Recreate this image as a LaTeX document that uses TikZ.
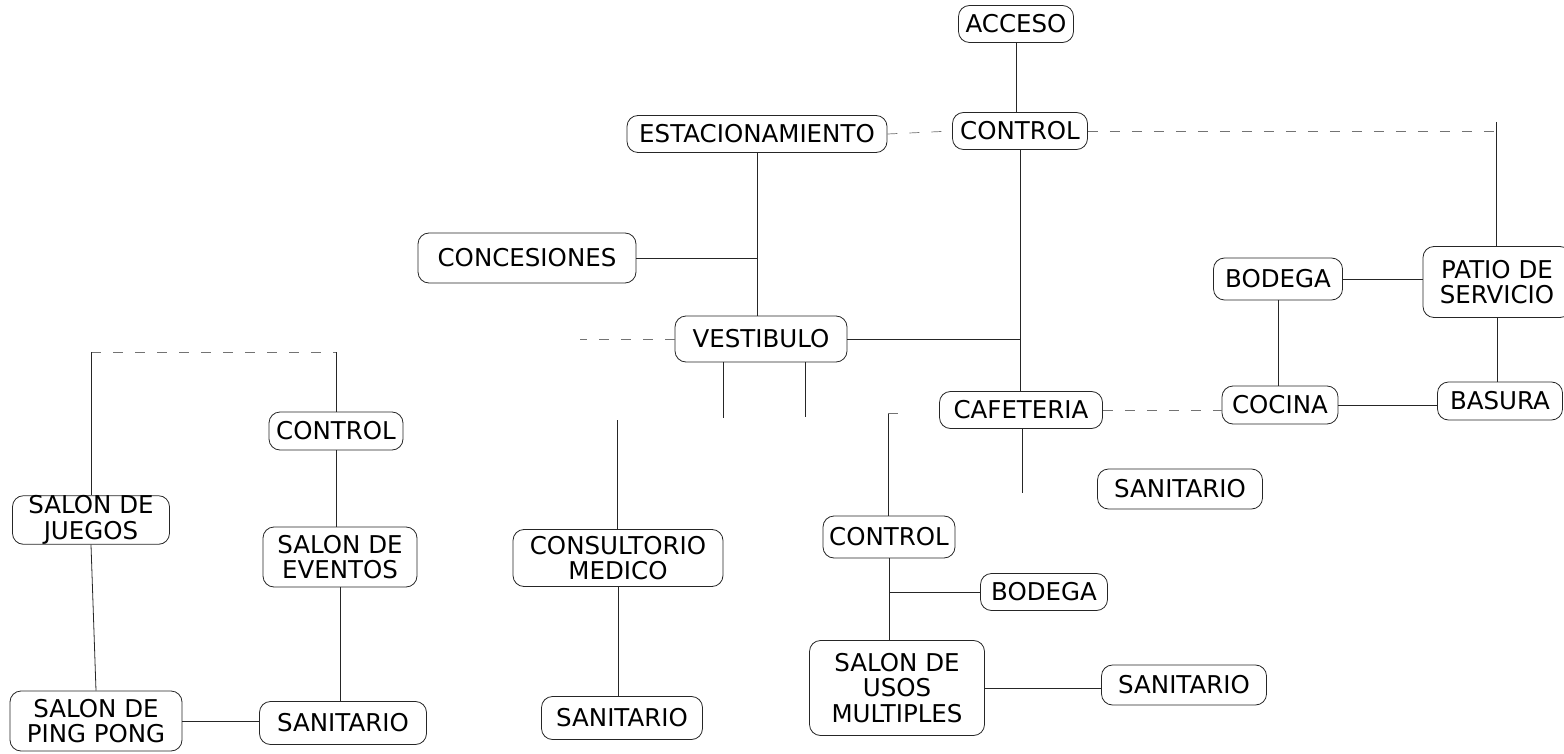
\documentclass[tikz,border=0pt]{standalone}
\usepackage{fontspec}
\setmainfont{DejaVu Sans}
\begin{document}
\begin{tikzpicture}[x=1pt,y=-1pt,
  box/.style={draw=black!85, line width=0.8pt, rounded corners=11pt, align=center, inner sep=0pt,
    font=\fontsize{24.5}{25.5}\selectfont},
  link/.style={draw=black!85, line width=0.8pt},
  faint/.style={draw=black!55, line width=0.7pt, dash pattern=on 10pt off 12pt}]
\useasboundingbox (0,0) rectangle (1564,754);
% nodes
\node[box, minimum width=115, minimum height=37] (acc) at (1016,24) {ACCESO};
\node[box, minimum width=135, minimum height=37] (ctl) at (1020,131) {CONTROL};
\node[box, minimum width=260, minimum height=37] (est) at (757,134) {ESTACIONAMIENTO};
\node[box, minimum width=218, minimum height=50] (conc) at (527,258) {CONCESIONES};
\node[box, minimum width=172, minimum height=46] (vest) at (761,339) {VESTIBULO};
\node[box, minimum width=163, minimum height=37] (caf) at (1021,410) {CAFETERIA};
\node[box, minimum width=116, minimum height=38] (coc) at (1280,405) {COCINA};
\node[box, minimum width=125, minimum height=38] (bas) at (1500,401) {BASURA};
\node[box, minimum width=129, minimum height=42] (bodA) at (1278,279) {BODEGA};
\node[box, minimum width=148, minimum height=71] (patio) at (1497,282) {PATIO DE\\SERVICIO};
\node[box, minimum width=165, minimum height=40] (sanA) at (1180,489) {SANITARIO};
\node[box, minimum width=132, minimum height=42] (ctlB) at (889,537) {CONTROL};
\node[box, minimum width=127, minimum height=37] (bodB) at (1044,592) {BODEGA};
\node[box, minimum width=175, minimum height=95] (usos) at (897,688) {SALON DE\\USOS\\MULTIPLES};
\node[box, minimum width=165, minimum height=40] (sanB) at (1184,685) {SANITARIO};
\node[box, minimum width=210, minimum height=57] (cons) at (618,558) {CONSULTORIO\\MEDICO};
\node[box, minimum width=161, minimum height=43] (sanC) at (622,718) {SANITARIO};
\node[box, minimum width=157, minimum height=46] (juegos) at (91,520) {SALON DE\\JUEGOS};
\node[box, minimum width=134, minimum height=38] (ctlC) at (336,431) {CONTROL};
\node[box, minimum width=154, minimum height=60] (eventos) at (340,557) {SALON DE\\EVENTOS};
\node[box, minimum width=172, minimum height=60] (ping) at (96,721) {SALON DE\\PING PONG};
\node[box, minimum width=167, minimum height=43] (sanD) at (343,723) {SANITARIO};
% free ends / junctions
\coordinate (pt) at (1496,122);
\coordinate (jl) at (91,352);
\coordinate (jr) at (336,352);
\coordinate (v1) at (723,418);
\coordinate (v2) at (805,417);
\coordinate (c1) at (617,420);
\coordinate (c2) at (888,413);
\coordinate (c3) at (1022,493);
% connectors
\draw[link] (acc.south) -- (acc.south |- ctl.north);
\draw[faint] (est.east) -- (ctl.west);
\draw[link] (ctl.south) -- (ctl.south |- caf.north);
\draw[faint] (ctl.east) -- (pt |- ctl.east);
\draw[link] (pt) -- (pt |- patio.north);
\draw[link] (est.south) -- (est.south |- vest.north);
\draw[link] (conc.east) -- (conc.east -| est.south);
\draw[link] (vest.east) -- (vest.east -| ctl.south);
\draw[faint] (vest.west) -- ++(-95,0);
\draw[faint] (jl) -- (jr);
\draw[link] (jl) -- (jl |- juegos.north);
\draw[link] (jr) -- (jr |- ctlC.north);
\draw[link] (juegos.south) -- (ping.north);
\draw[link] (ctlC.south) -- (ctlC.south |- eventos.north);
\draw[link] (eventos.south) -- (eventos.south |- sanD.north);
\draw[link] (ping.east) -- (ping.east -| sanD.west);
\draw[link] (v1 |- vest.south) -- (v1);
\draw[link] (v2 |- vest.south) -- (v2);
\draw[link] (c1) -- (c1 |- cons.north);
\draw[link] (c2) -- (c2 |- ctlB.north);
\draw[faint] (c2) -- ++(16,0);
\draw[link] (cons.south) -- (cons.south |- sanC.north);
\draw[link] (c3 |- caf.south) -- (c3);
\draw[faint] (caf.east) -- (caf.east -| coc.west);
\draw[link] (bodA.south) -- (bodA.south |- coc.north);
\draw[link] (bodA.east) -- (bodA.east -| patio.west);
\draw[link] (patio.south) -- (patio.south |- bas.north);
\draw[link] (coc.east) -- (coc.east -| bas.west);
\draw[link] (ctlB.south) -- (ctlB.south |- usos.north);
\draw[link] (ctlB.south |- bodB.west) -- (bodB.west);
\draw[link] (usos.east) -- (usos.east -| sanB.west);
\end{tikzpicture}
\end{document}
